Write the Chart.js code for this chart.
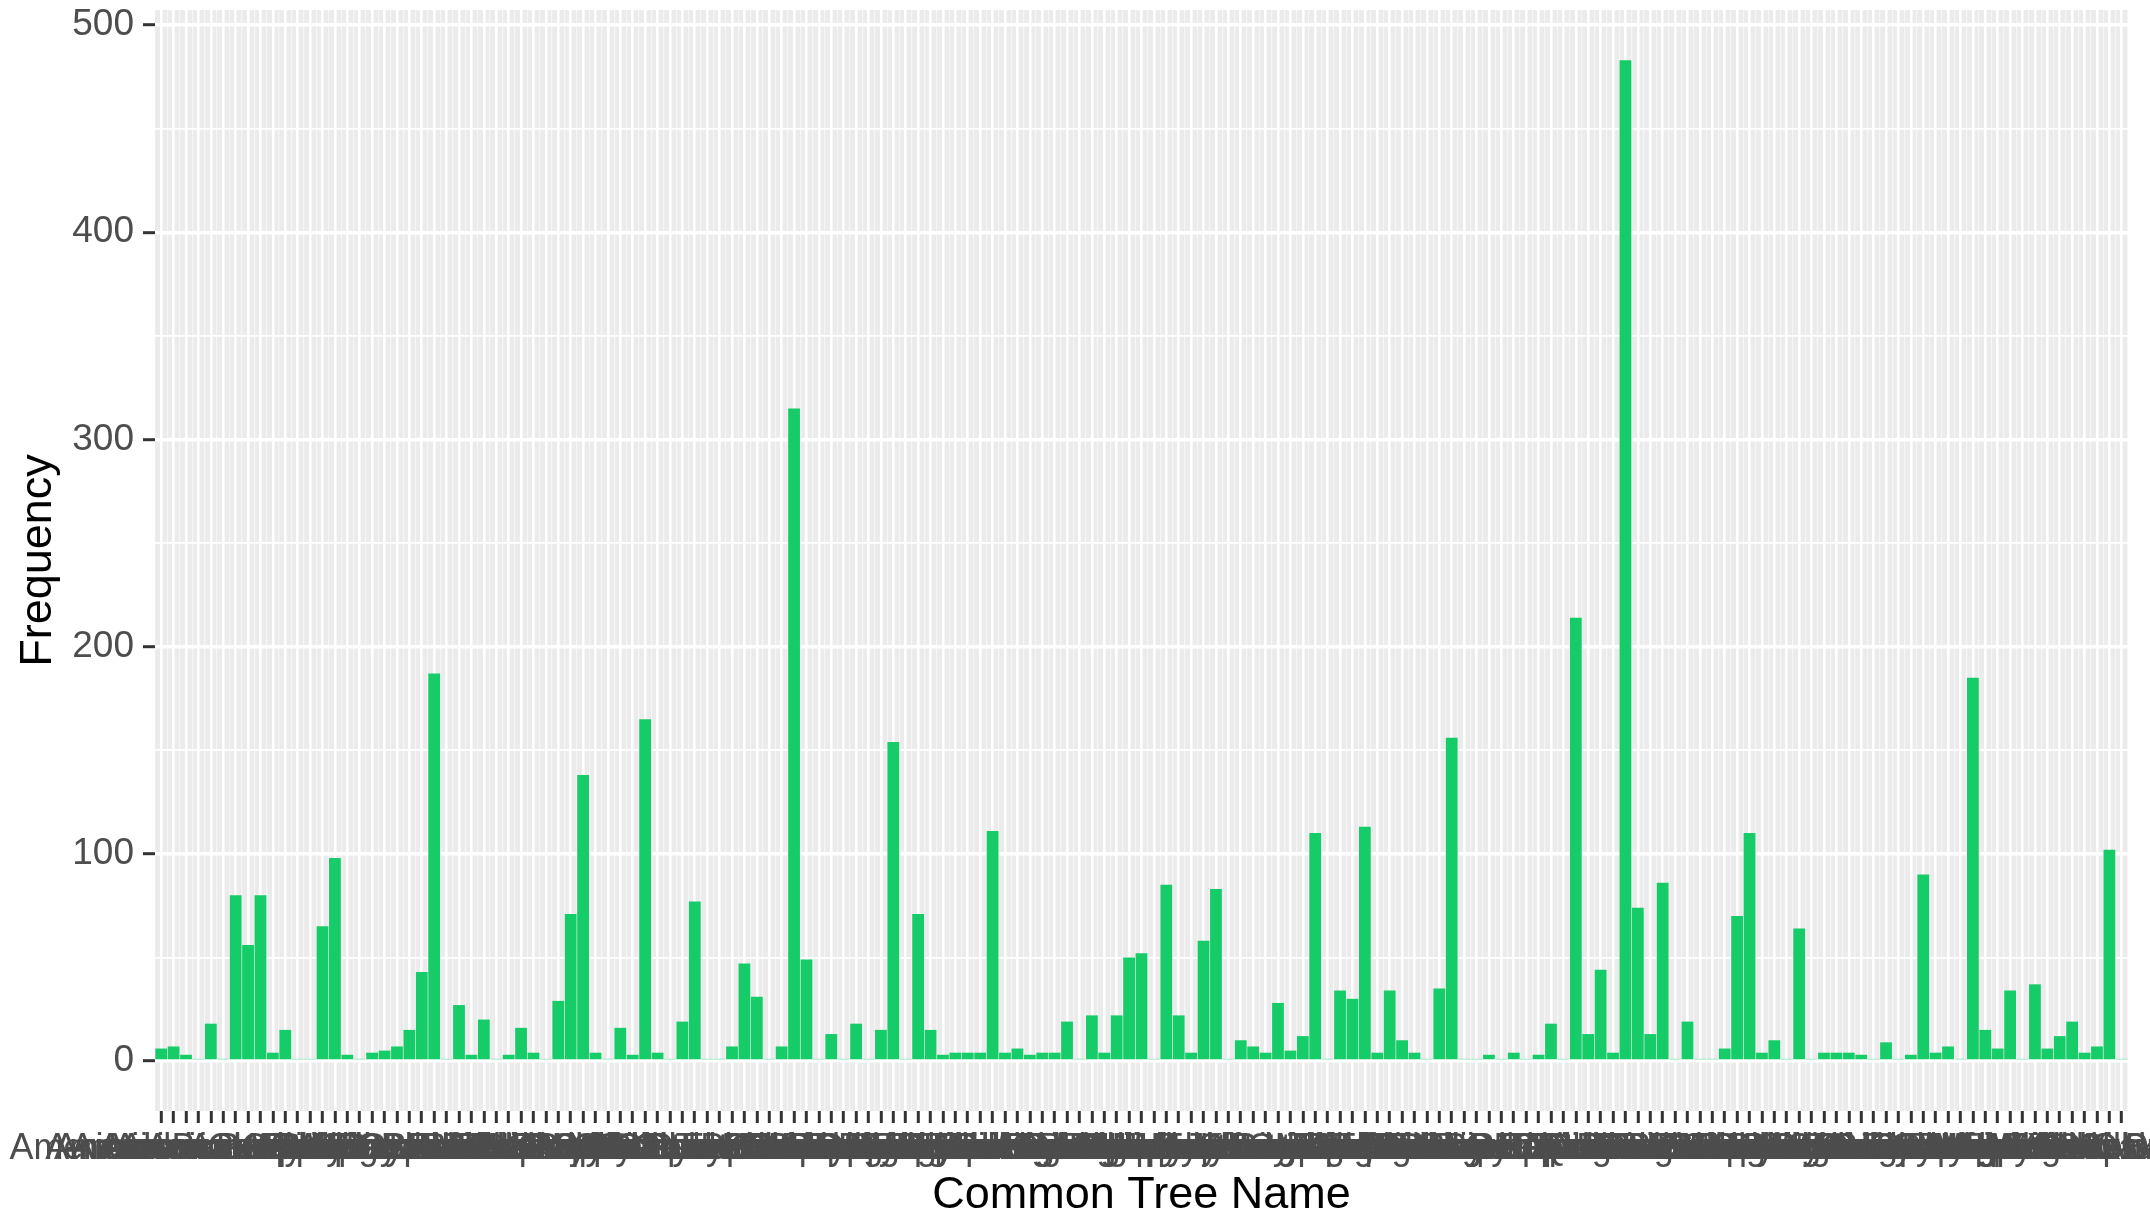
<!DOCTYPE html>
<html>
<head>
<meta charset="utf-8">
<title>Common Tree Name frequency</title>
<script src="https://cdn.jsdelivr.net/npm/chart.js@4.4.1/dist/chart.umd.min.js"></script>
<style>
  body { margin: 0; background: #ffffff; }
  #wrap { width: 2150px; height: 1218px; }
</style>
</head>
<body>
<div id="wrap"><canvas id="treeChart" width="2150" height="1218"></canvas></div>
<script>
// Category labels (alphabetical, as ggplot orders a factor)
const treeNames = [
    'Alder', 'American Basswood', 'American Beech', 'American Chestnut', 'American Elm',
    'American Holly', 'American Hornbeam', 'American Linden', 'American Sycamore', 'Amur Cork Tree',
    'Amur Maple', 'Apple', 'Apricot', 'Arborvitae', 'Ash',
    'Aspen', 'Atlas Cedar', 'Austrian Pine', 'Bald Cypress', 'Balsam Fir',
    'Basswood', 'Bay Laurel', 'Beech', 'Big Leaf Maple', 'Birch',
    'Bitternut Hickory', 'Black Cherry', 'Black Gum', 'Black Locust', 'Black Maple',
    'Black Oak', 'Black Walnut', 'Black Willow', 'Blue Spruce', 'Boxelder',
    'Bur Oak', 'Butternut', 'Callery Pear', 'Camphor Tree', 'Catalpa',
    'Cedar Elm', 'Cherry', 'Cherry Plum', 'Chestnut Oak', 'Chinese Elm',
    'Chinese Pistache', 'Chinkapin Oak', 'Chokecherry', 'Coast Live Oak', 'Coast Redwood',
    'Colorado Spruce', 'Common Hackberry', 'Cork Oak', 'Cottonwood', 'Crabapple',
    'Crape Myrtle', 'Cucumber Tree', 'Dawn Redwood', 'Deodar Cedar', 'Dogwood',
    'Douglas Fir', 'Eastern Hemlock', 'Eastern Redbud', 'Eastern Red Cedar', 'Eastern White Pine',
    'English Elm', 'English Oak', 'European Beech', 'European Hornbeam', 'European Larch',
    'Fig', 'Flowering Cherry', 'Flowering Dogwood', 'Freeman Maple', 'Ginkgo',
    'Golden Rain Tree', 'Green Ash', 'Hackberry', 'Hawthorn', 'Hedge Maple',
    'Hemlock', 'Hickory', 'Holly', 'Honey Locust', 'Hophornbeam',
    'Horse Chestnut', 'Incense Cedar', 'Japanese Maple', 'Japanese Pagoda Tree', 'Japanese Zelkova',
    'Jeffrey Pine', 'Juniper', 'Katsura Tree', 'Kentucky Coffeetree', 'Kousa Dogwood',
    'Lacebark Elm', 'Laurel Oak', 'Littleleaf Linden', 'Live Oak', 'Lodgepole Pine',
    'London Plane', 'Magnolia', 'Mimosa', 'Mulberry', 'Northern Catalpa',
    'Northern Red Oak', 'Norway Maple', 'Norway Spruce', 'Nuttall Oak', 'Osage Orange',
    'Paper Birch', 'Pawpaw', 'Peach', 'Pear', 'Pecan',
    'Persimmon', 'Pin Oak', 'Pitch Pine', 'Plum', 'Ponderosa Pine',
    'Post Oak', 'Quaking Aspen', 'Red Alder', 'Red Buckeye', 'Red Maple',
    'Red Mulberry', 'Red Pine', 'River Birch', 'Sassafras', 'Saucer Magnolia',
    'Sawtooth Oak', 'Scarlet Oak', 'Scots Pine', 'Serviceberry', 'Shagbark Hickory',
    'Shingle Oak', 'Shumard Oak', 'Siberian Elm', 'Silver Linden', 'Silver Maple',
    'Smoketree', 'Sourwood', 'Southern Magnolia', 'Sugar Maple', 'Swamp White Oak',
    'Sweetgum', 'Sycamore', 'Tree of Heaven', 'Tulip Tree', 'Tupelo',
    'Valley Oak', 'Water Oak', 'Weeping Willow', 'White Ash', 'White Oak',
    'White Spruce', 'Willow Oak', 'Yellow Birch', 'Yellowwood'
];

// Counts per tree
const treeCounts = [
    6, 7, 3, 1, 18, 1, 80, 56, 80, 4,
    15, 1, 1, 65, 98, 3, 1, 4, 5, 7,
    15, 43, 187, 1, 27, 3, 20, 1, 3, 16,
    4, 1, 29, 71, 138, 4, 1, 16, 3, 165,
    4, 1, 19, 77, 1, 1, 7, 47, 31, 1,
    7, 315, 49, 1, 13, 1, 18, 1, 15, 154,
    1, 71, 15, 3, 4, 4, 4, 111, 4, 6,
    3, 4, 4, 19, 1, 22, 4, 22, 50, 52,
    1, 85, 22, 4, 58, 83, 1, 10, 7, 4,
    28, 5, 12, 110, 1, 34, 30, 113, 4, 34,
    10, 4, 1, 35, 156, 1, 1, 3, 1, 4,
    1, 3, 18, 1, 214, 13, 44, 4, 483, 74,
    13, 86, 1, 19, 1, 1, 6, 70, 110, 4,
    10, 1, 64, 1, 4, 4, 4, 3, 1, 9,
    1, 3, 90, 4, 7, 1, 185, 15, 6, 34,
    1, 37, 6, 12, 19, 4, 7, 102, 1
];

// y axis: grid values (majors carry labels) and range with ggplot's 5% expansion
const yTickVals = [0, 50, 100, 150, 200, 250, 300, 350, 400, 450, 500];
const yMin = -24.15;
const yMax = 507.3;

const FONT = '"Liberation Sans", Arial, sans-serif';
const isMajor = v => v % 100 === 0;

// grey panel behind the grid, like theme_gray
const panelBackground = {
    id: 'panelBackground',
    beforeDraw(chart) {
        const { ctx, chartArea } = chart;
        ctx.save();
        ctx.fillStyle = '#EBEBEB';
        ctx.fillRect(chartArea.left, chartArea.top, chartArea.right - chartArea.left, chartArea.bottom - chartArea.top);
        ctx.restore();
    }
};

new Chart(document.getElementById('treeChart'), {
    type: 'bar',
    data: {
        labels: treeNames,
        datasets: [{
            label: 'Frequency',
            data: treeCounts,
            backgroundColor: '#16CC69',
            borderWidth: 0,
            barPercentage: 0.95,
            categoryPercentage: 1.0
        }]
    },
    options: {
        responsive: false,
        devicePixelRatio: 1,
        animation: false,
        layout: {
            autoPadding: false,
            padding: { top: 10, right: 22, left: 0, bottom: 0 }
        },
        plugins: {
            legend: { display: false },
            tooltip: { enabled: false }
        },
        scales: {
            x: {
                type: 'category',
                offset: true,
                grid: {
                    offset: false,
                    color: '#FFFFFF',
                    lineWidth: 2.6,
                    drawTicks: true,
                    tickLength: 12,
                    tickColor: '#333333',
                    tickWidth: 3
                },
                border: { display: false },
                ticks: {
                    autoSkip: false,
                    maxRotation: 0,
                    minRotation: 0,
                    color: '#4D4D4D',
                    padding: 4,
                    font: { family: FONT, size: 36 }
                },
                title: {
                    display: true,
                    text: 'Common Tree Name',
                    color: '#000000',
                    font: { family: FONT, size: 45, lineHeight: 1 },
                    padding: { top: 0, bottom: 0 }
                },
                afterFit: s => {
                    s.height = 107;
                    s.paddingLeft = 0;
                    s.paddingRight = 0;
                }
            },
            // second axis only for the thin lines between categories
            x2: {
                type: 'category',
                labels: treeNames,
                offset: true,
                position: 'bottom',
                grid: {
                    offset: true,
                    color: 'rgba(255,255,255,0.55)',
                    lineWidth: 1.2,
                    drawTicks: false
                },
                border: { display: false },
                ticks: { display: false },
                afterFit: s => {
                    s.height = 0;
                    s.paddingLeft = 0;
                    s.paddingRight = 0;
                }
            },
            y: {
                min: yMin,
                max: yMax,
                afterBuildTicks: s => { s.ticks = yTickVals.map(v => ({ value: v })); },
                grid: {
                    color: '#FFFFFF',
                    lineWidth: c => (c.tick && isMajor(c.tick.value) ? 3.4 : 1.7),
                    tickLength: 12,
                    tickColor: c => (c.tick && isMajor(c.tick.value) ? '#333333' : 'rgba(0,0,0,0)'),
                    tickWidth: 3
                },
                border: { display: false },
                ticks: {
                    color: '#4D4D4D',
                    padding: 9,
                    font: { family: FONT, size: 37 },
                    callback: v => (isMajor(v) ? v : '')
                },
                title: {
                    display: true,
                    text: 'Frequency',
                    color: '#000000',
                    font: { family: FONT, size: 45, lineHeight: 1 },
                    padding: { top: 16, bottom: 0 }
                },
                afterFit: s => {
                    s.width = 155;
                    s.paddingTop = 0;
                    s.paddingBottom = 0;
                }
            }
        }
    },
    plugins: [panelBackground]
});
</script>
</body>
</html>
